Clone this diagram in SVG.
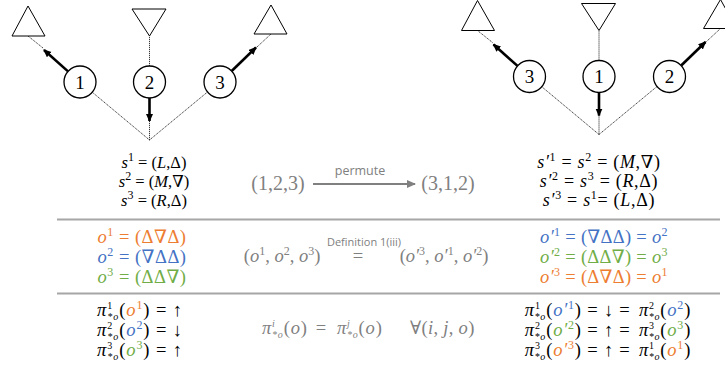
<svg xmlns="http://www.w3.org/2000/svg" width="725" height="368" viewBox="0 0 725 368">
<style>
.tri{fill:#fff;stroke:#000;stroke-width:1}
.cir{fill:#fff;stroke:#000;stroke-width:1.3}
.num{font-family:"Liberation Serif","DejaVu Serif",serif;font-size:19px;text-anchor:middle;fill:#000}
.dot{stroke:#222;stroke-width:0.9;stroke-dasharray:1.2 0.8;fill:none}
.thick{stroke:#000;stroke-width:2.6;fill:none;marker-end:url(#ah)}
.sep{stroke:#a6a6a6;stroke-width:2}
.m{font-family:"Liberation Serif","DejaVu Serif",serif;font-size:17px;fill:#000}
.i{font-style:italic}
.s{font-size:12px}
.t{font-size:10px}
.g{fill:#808080}
.or{fill:#ED7D31}
.bl{fill:#4472C4}
.gr{fill:#70AD47}
.sans{font-family:"Open Sans","Liberation Sans",sans-serif;fill:#808080}
</style>
<defs>
<marker id="ah" markerUnits="userSpaceOnUse" markerWidth="9" markerHeight="8" refX="7" refY="3.5" orient="auto">
<path d="M0,0 L8,3.5 L0,7 z" fill="#000"/>
</marker>
<marker id="ahg" markerUnits="userSpaceOnUse" markerWidth="10" markerHeight="9" refX="8" refY="4" orient="auto">
<path d="M0,0 L9,4 L0,8 z" fill="#808080"/>
</marker>
</defs>

<g id="connectors">
<g id="left-tree-edges">
<path class="dot" d="M149.5,140 L92,92 M149.5,140 L207.5,92 M149.5,140 L149.5,98 M149.5,66 L149.5,36 M43,48 L28,36 M257,47 L271,34"/>
<path class="thick" d="M68,71.4 L44,50"/>
<path class="thick" d="M149.5,98 L149.5,121"/>
<path class="thick" d="M231.7,71 L256,47.5"/>
</g>
<g id="right-tree-edges" transform="translate(449.5,-5.5)">
<path class="dot" d="M149.5,140 L92,92 M149.5,140 L207.5,92 M149.5,140 L149.5,98 M149.5,66 L149.5,36 M43,48 L28,36 M257,47 L271,34"/>
<path class="thick" d="M68,71.4 L44,50"/>
<path class="thick" d="M149.5,98 L149.5,121"/>
<path class="thick" d="M231.7,71 L256,47.5"/>
</g>
<path id="permute-arrow" d="M313,184 L415,184" stroke="#808080" stroke-width="2" marker-end="url(#ahg)"/>
<line class="sep" x1="57" y1="219.5" x2="720" y2="219.5"/>
<line class="sep" x1="57" y1="293.5" x2="720" y2="293.5"/>
</g>

<g id="left-tree">
<g id="L-tri-left"><polygon class="tri" points="28,6 12,36 45,36"/></g>
<g id="L-tri-mid"><polygon class="tri" points="132,9 166,9 149.5,36"/></g>
<g id="L-tri-right"><polygon class="tri" points="271,5 254,34 287,34"/></g>
<g id="L-node-1"><circle class="cir" cx="80" cy="82" r="16"/><text class="num" x="80" y="88.5">1</text></g>
<g id="L-node-2"><circle class="cir" cx="149.5" cy="82" r="16"/><text class="num" x="149.5" y="88.5">2</text></g>
<g id="L-node-3"><circle class="cir" cx="220" cy="82" r="16"/><text class="num" x="220" y="88.5">3</text></g>
</g>

<g id="right-tree" transform="translate(449.5,-5.5)">
<g id="R-tri-left"><polygon class="tri" points="28,6 12,36 45,36"/></g>
<g id="R-tri-mid"><polygon class="tri" points="132,9 166,9 149.5,36"/></g>
<g id="R-tri-right"><polygon class="tri" points="271,5 254,34 287,34"/></g>
<g id="R-node-3"><circle class="cir" cx="80" cy="82" r="16"/><text class="num" x="80" y="88.5">3</text></g>
<g id="R-node-1"><circle class="cir" cx="149.5" cy="82" r="16"/><text class="num" x="149.5" y="88.5">1</text></g>
<g id="R-node-2"><circle class="cir" cx="220" cy="82" r="16"/><text class="num" x="220" y="88.5">2</text></g>
</g>

<g id="s-left" class="m" text-anchor="middle" style="font-size:16.5px">
<text x="154" y="168"><tspan class="i">s</tspan><tspan class="s" dy="-7">1</tspan><tspan dy="7"> = (</tspan><tspan class="i">L</tspan>,Δ)</text>
<text x="154" y="187"><tspan class="i">s</tspan><tspan class="s" dy="-7">2</tspan><tspan dy="7"> = (</tspan><tspan class="i">M</tspan>,∇)</text>
<text x="154" y="206"><tspan class="i">s</tspan><tspan class="s" dy="-7">3</tspan><tspan dy="7"> = (</tspan><tspan class="i">R</tspan>,Δ)</text>
</g>

<g id="permute">
<text class="m g" x="278" y="190" text-anchor="middle" style="font-size:20px">(1,2,3)</text>
<text class="sans" x="360" y="175" text-anchor="middle" font-size="12.5">permute</text>
<text class="m g" x="448" y="190" text-anchor="middle" style="font-size:20px">(3,1,2)</text>
</g>

<g id="s-right" class="m" text-anchor="middle" style="font-size:18px;letter-spacing:0.7px">
<text x="599" y="168"><tspan class="i">s′</tspan><tspan class="s" dy="-7">1</tspan><tspan dy="7"> = </tspan><tspan class="i">s</tspan><tspan class="s" dy="-7">2</tspan><tspan dy="7"> = (</tspan><tspan class="i">M</tspan>,∇)</text>
<text x="599" y="187"><tspan class="i">s′</tspan><tspan class="s" dy="-7">2</tspan><tspan dy="7"> = </tspan><tspan class="i">s</tspan><tspan class="s" dy="-7">3</tspan><tspan dy="7"> = (</tspan><tspan class="i">R</tspan>,Δ)</text>
<text x="599" y="206"><tspan class="i">s′</tspan><tspan class="s" dy="-7">3</tspan><tspan dy="7"> = </tspan><tspan class="i">s</tspan><tspan class="s" dy="-7">1</tspan><tspan dy="7">= (</tspan><tspan class="i">L</tspan>,Δ)</text>
</g>

<g id="o-left" class="m" text-anchor="middle" style="font-size:18.5px;letter-spacing:0.5px">
<text class="or" x="142" y="243"><tspan class="i">o</tspan><tspan class="s" dy="-7">1</tspan><tspan dy="7"> = (Δ∇Δ)</tspan></text>
<text class="bl" x="142" y="263"><tspan class="i">o</tspan><tspan class="s" dy="-7">2</tspan><tspan dy="7"> = (∇ΔΔ)</tspan></text>
<text class="gr" x="142" y="283"><tspan class="i">o</tspan><tspan class="s" dy="-7">3</tspan><tspan dy="7"> = (ΔΔ∇)</tspan></text>
</g>

<g id="o-middle">
<text class="m g" x="282" y="262" text-anchor="middle" style="font-size:18.5px">(<tspan class="i">o</tspan><tspan class="s" dy="-7">1</tspan><tspan dy="7">, </tspan><tspan class="i">o</tspan><tspan class="s" dy="-7">2</tspan><tspan dy="7">, </tspan><tspan class="i">o</tspan><tspan class="s" dy="-7">3</tspan><tspan dy="7">)</tspan></text>
<text class="sans" x="364" y="246" text-anchor="middle" font-size="11">Definition 1(iii)</text>
<text class="m g" x="358" y="262" text-anchor="middle" style="font-size:18.5px">=</text>
<text class="m g" x="444" y="262" text-anchor="middle" style="font-size:18.5px">(<tspan class="i">o′</tspan><tspan class="s" dy="-7">3</tspan><tspan dy="7">, </tspan><tspan class="i">o′</tspan><tspan class="s" dy="-7">1</tspan><tspan dy="7">, </tspan><tspan class="i">o′</tspan><tspan class="s" dy="-7">2</tspan><tspan dy="7">)</tspan></text>
</g>

<g id="o-right" class="m" text-anchor="middle" style="font-size:18.5px;letter-spacing:0.3px">
<text class="bl" x="604" y="243"><tspan class="i">o′</tspan><tspan class="s" dy="-7">1</tspan><tspan dy="7"> = (∇ΔΔ) = </tspan><tspan class="i">o</tspan><tspan class="s" dy="-7">2</tspan></text>
<text class="gr" x="604" y="263"><tspan class="i">o′</tspan><tspan class="s" dy="-7">2</tspan><tspan dy="7"> = (ΔΔ∇) = </tspan><tspan class="i">o</tspan><tspan class="s" dy="-7">3</tspan></text>
<text class="or" x="604" y="283"><tspan class="i">o′</tspan><tspan class="s" dy="-7">3</tspan><tspan dy="7"> = (Δ∇Δ) = </tspan><tspan class="i">o</tspan><tspan class="s" dy="-7">1</tspan></text>
</g>

<g id="pi-left" class="m" text-anchor="middle" style="font-size:18.5px;letter-spacing:0.9px">
<text x="140" y="315.5"><tspan class="i">π</tspan><tspan class="t" dy="-7">1</tspan><tspan class="t i" dx="-5.8" dy="11">*o</tspan><tspan dy="-4">(</tspan><tspan class="i or">o</tspan><tspan class="s or" dy="-7">1</tspan><tspan dy="7">) = ↑</tspan></text>
<text x="140" y="335.5"><tspan class="i">π</tspan><tspan class="t" dy="-7">2</tspan><tspan class="t i" dx="-5.8" dy="11">*o</tspan><tspan dy="-4">(</tspan><tspan class="i bl">o</tspan><tspan class="s bl" dy="-7">2</tspan><tspan dy="7">) = ↓</tspan></text>
<text x="140" y="355.5"><tspan class="i">π</tspan><tspan class="t" dy="-7">3</tspan><tspan class="t i" dx="-5.8" dy="11">*o</tspan><tspan dy="-4">(</tspan><tspan class="i gr">o</tspan><tspan class="s gr" dy="-7">3</tspan><tspan dy="7">) = ↑</tspan></text>
</g>

<g id="pi-middle" class="m g" style="font-size:18.5px;letter-spacing:0.8px">
<text x="262" y="334"><tspan class="i">π</tspan><tspan class="t i" dy="-7">i</tspan><tspan class="t i" dx="-3.6" dy="11">*o</tspan><tspan dy="-4">(</tspan><tspan class="i">o</tspan>)<tspan dx="8">=</tspan><tspan class="i" dx="10">π</tspan><tspan class="t i" dy="-7">j</tspan><tspan class="t i" dx="-3.6" dy="11">*o</tspan><tspan dy="-4">(</tspan><tspan class="i">o</tspan>)</text>
<text x="410" y="334" style="letter-spacing:0.3px">∀(<tspan class="i">i</tspan>, <tspan class="i">j</tspan>, <tspan class="i">o</tspan>)</text>
</g>

<g id="pi-right" class="m" text-anchor="middle" style="font-size:18.5px;letter-spacing:0.8px">
<text x="608" y="315.5"><tspan class="i">π</tspan><tspan class="t" dy="-7">1</tspan><tspan class="t i" dx="-6.2" dy="11">*o</tspan><tspan dy="-4">(</tspan><tspan class="i bl">o′</tspan><tspan class="s bl" dy="-7">1</tspan><tspan dy="7">) = ↓ =  </tspan><tspan class="i" dx="3">π</tspan><tspan class="t" dy="-7">2</tspan><tspan class="t i" dx="-6.2" dy="11">*o</tspan><tspan dy="-4">(</tspan><tspan class="i bl">o</tspan><tspan class="s bl" dy="-7">2</tspan><tspan dy="7">)</tspan></text>
<text x="608" y="335.5"><tspan class="i">π</tspan><tspan class="t" dy="-7">2</tspan><tspan class="t i" dx="-6.2" dy="11">*o</tspan><tspan dy="-4">(</tspan><tspan class="i gr">o′</tspan><tspan class="s gr" dy="-7">2</tspan><tspan dy="7">) = ↑ =  </tspan><tspan class="i" dx="3">π</tspan><tspan class="t" dy="-7">3</tspan><tspan class="t i" dx="-6.2" dy="11">*o</tspan><tspan dy="-4">(</tspan><tspan class="i gr">o</tspan><tspan class="s gr" dy="-7">3</tspan><tspan dy="7">)</tspan></text>
<text x="608" y="355.5"><tspan class="i">π</tspan><tspan class="t" dy="-7">3</tspan><tspan class="t i" dx="-6.2" dy="11">*o</tspan><tspan dy="-4">(</tspan><tspan class="i or">o′</tspan><tspan class="s or" dy="-7">3</tspan><tspan dy="7">) = ↑ =  </tspan><tspan class="i" dx="3">π</tspan><tspan class="t" dy="-7">1</tspan><tspan class="t i" dx="-6.2" dy="11">*o</tspan><tspan dy="-4">(</tspan><tspan class="i or">o</tspan><tspan class="s or" dy="-7">1</tspan><tspan dy="7">)</tspan></text>
</g>
</svg>
